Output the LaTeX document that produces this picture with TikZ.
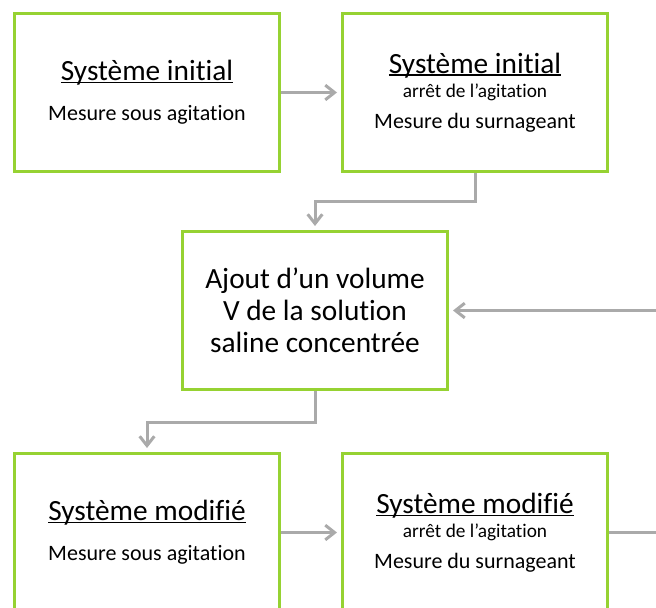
\documentclass[tikz,border=0pt]{standalone}
\usepackage{fontspec}
\setmainfont{Carlito}[Ligatures=NoCommon]
\usetikzlibrary{arrows.meta}
\definecolor{vert}{RGB}{150,210,50}
\definecolor{gris}{RGB}{170,170,170}
\newcommand\titre[1]{\setbox0\hbox{#1}\rlap{\rule[-2pt]{\wd0}{1.1pt}}\box0}
\newcommand\grand{\fontsize{22}{24}\selectfont}
\newcommand\moyen{\fontsize{16.5}{19}\selectfont}
\newcommand\petit{\fontsize{14.5}{17}\selectfont}

\begin{document}
\begin{tikzpicture}[x=0.75pt,y=-0.75pt,
  boite/.style={draw=vert,line width=2.25pt,fill=white,minimum width=198.75pt,minimum height=118.5pt,align=center,inner sep=0pt,font=\grand},
  fleche/.style={draw=gris,line width=2.25pt,-{Straight Barb[length=7pt,width=11pt]},shorten >=3pt}]
\useasboundingbox (0,0) rectangle (656,607);
\clip (0,0) rectangle (656,607);

\node[boite] (init) at (147,92.5) {\titre{Système initial}\\[6pt]\moyen Mesure sous agitation};
\node[boite] (initarret) at (475,92.5) {\titre{Système initial}\\[-6pt]\petit arrêt de l’agitation\\[-0.75pt]\moyen Mesure du surnageant};
\node[boite] (ajout) at (315,310.5) {Ajout d’un volume\\V de la solution\\saline concentrée};
\node[boite] (modif) at (147,532.5) {\titre{Système modifié}\\[6pt]\moyen Mesure sous agitation};
\node[boite] (modifarret) at (475,532.5) {\titre{Système modifié}\\[-6pt]\petit arrêt de l’agitation\\[-0.75pt]\moyen Mesure du surnageant};

\draw[fleche] (init.east) -- (initarret.west);
\draw[fleche] (initarret.south) -- ++(0,28) -| (ajout.north);
\draw[fleche] (ajout.south) -- ++(0,31) -| (modif.north);
\draw[fleche] (modif.east) -- (modifarret.west);
\draw[fleche] (modifarret.east) -- ++(80,0) |- (ajout.east);
\end{tikzpicture}
\end{document}
